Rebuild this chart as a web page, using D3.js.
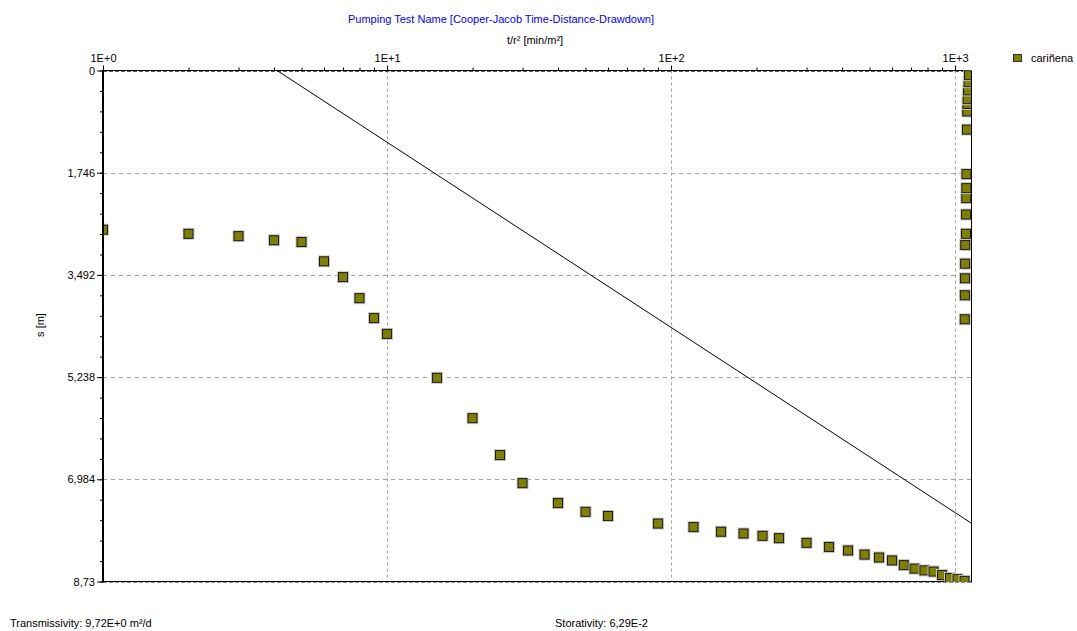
<!DOCTYPE html>
<html>
<head>
<meta charset="utf-8">
<script src="https://cdn.jsdelivr.net/npm/d3@7"></script>
<style>
  body { margin: 0; background: #fff; }
  text { font-family: Arial, "Liberation Sans", sans-serif; font-size: 11px; }
</style>
</head>
<body>
<div id="main_chart"></div>
<script>
// observed time / r^2 [min/m2]
var times = [1, 2, 3, 4, 5, 6, 7, 8, 9, 10, 15, 20, 25, 30, 40, 50, 60, 90,
    120, 150, 180, 210, 240, 300, 360, 420, 480, 540, 600, 660, 720, 780, 840,
    900, 960, 1020, 1080,
    1082, 1083, 1084, 1085, 1086, 1093, 1094, 1095, 1096, 1097, 1102, 1104,
    1106, 1108, 1111, 1116, 1120];

// observed drawdown s [m]
var drawdowns = [2.72, 2.79, 2.83, 2.90, 2.93, 3.26, 3.53, 3.89, 4.23, 4.50,
    5.25, 5.94, 6.57, 7.05, 7.39, 7.54, 7.61, 7.74,
    7.80, 7.88, 7.91, 7.95, 7.99, 8.07, 8.14, 8.20, 8.27, 8.32, 8.37, 8.45,
    8.51, 8.54, 8.56, 8.62, 8.67, 8.69, 8.72,
    4.25, 3.84, 3.55, 3.30, 2.98, 2.79, 2.46, 2.18, 2.01, 1.77, 1.01, 0.70,
    0.57, 0.49, 0.34, 0.20, 0.08];

// fitted Cooper-Jacob straight line (two end points)
var fitTimes = [4.1, 1138];
var fitDrawdowns = [0, 7.73];

var xTickValues = [1, 10, 100, 1000];
var xTickLabels = ["1E+0", "1E+1", "1E+2", "1E+3"];
var yTickValues = [0, 1.746, 3.492, 5.238, 6.984, 8.73];
var yTickLabels = ["0", "1,746", "3,492", "5,238", "6,984", "8,73"];

var seriesName = "cariñena";
var title = "Pumping Test Name [Cooper-Jacob Time-Distance-Drawdown]";
var transmissivity = "Transmissivity: 9,72E+0 m²/d";
var storativity = "Storativity: 6,29E-2";

var width = 1077, height = 631;
var plotLeft = 103, plotRight = 971, plotTop = 70.5, plotBottom = 581.5;
var olive = "#808000";

var x = d3.scaleLog()
    .domain([1, 1138])
    .range([plotLeft, plotRight]);

var y = d3.scaleLinear()
    .domain([0, 8.73])
    .range([plotTop, plotBottom]);

var svg = d3.select("#main_chart").append("svg")
    .attr("width", width)
    .attr("height", height);

svg.append("rect")
    .attr("width", width)
    .attr("height", height)
    .attr("fill", "#fff");

svg.append("clipPath")
    .attr("id", "plot-clip")
    .append("rect")
    .attr("x", plotLeft)
    .attr("y", plotTop)
    .attr("width", plotRight - plotLeft)
    .attr("height", plotBottom - plotTop);

// grid lines
svg.append("g")
    .selectAll("line")
    .data(xTickValues.slice(1))
    .enter().append("line")
    .attr("x1", function(d) { return Math.round(x(d)) + 0.5; })
    .attr("x2", function(d) { return Math.round(x(d)) + 0.5; })
    .attr("y1", plotTop)
    .attr("y2", plotBottom)
    .attr("stroke", "#a0a0a0")
    .attr("stroke-dasharray", "3,3");

svg.append("g")
    .selectAll("line")
    .data(yTickValues.slice(1, -1))
    .enter().append("line")
    .attr("x1", plotLeft)
    .attr("x2", plotRight)
    .attr("y1", function(d) { return Math.round(y(d)) + 0.5; })
    .attr("y2", function(d) { return Math.round(y(d)) + 0.5; })
    .attr("stroke", "#a0a0a0")
    .attr("stroke-dasharray", "4,4");

// top axis (log)
var minor = [];
for (var e = 0; e < 4; e++) {
    for (var k = 2; k < 10; k++) {
        var v = k * Math.pow(10, e);
        if (v <= 1138) minor.push(v);
    }
}

var topAxis = svg.append("g")
    .attr("transform", "translate(0," + plotTop + ")")
    .call(d3.axisTop(x)
        .tickValues(xTickValues)
        .tickFormat(function(d, i) { return xTickLabels[i]; })
        .tickSize(5)
        .tickPadding(4));
topAxis.select(".domain").remove();
topAxis.selectAll("text").attr("font-size", 11).attr("fill", "#000");

svg.append("g")
    .attr("transform", "translate(0," + plotTop + ")")
    .call(d3.axisTop(x).tickValues(minor).tickFormat("").tickSize(3))
    .select(".domain").remove();

// left axis
var leftAxis = svg.append("g")
    .attr("transform", "translate(" + plotLeft + ",0)")
    .call(d3.axisLeft(y)
        .tickValues(yTickValues)
        .tickFormat(function(d, i) { return yTickLabels[i]; })
        .tickSize(6)
        .tickPadding(2));
leftAxis.select(".domain").remove();
leftAxis.selectAll("text").attr("font-size", 11).attr("fill", "#000");

svg.append("g")
    .attr("transform", "translate(" + plotLeft + ",0)")
    .call(d3.axisLeft(y).tickValues(d3.range(0, 26).map(function(i) { return i * 0.3492; })).tickFormat("").tickSize(3))
    .select(".domain").remove();

// frame
svg.append("line").attr("x1", plotLeft).attr("x2", plotRight).attr("y1", plotTop).attr("y2", plotTop)
    .attr("stroke", "#000");
svg.append("line").attr("x1", plotLeft).attr("x2", plotRight).attr("y1", plotTop + 1).attr("y2", plotTop + 1)
    .attr("stroke", "#555").attr("stroke-dasharray", "4,2");
svg.append("line").attr("x1", plotLeft).attr("x2", plotRight).attr("y1", plotBottom).attr("y2", plotBottom)
    .attr("stroke", "#000");
svg.append("line").attr("x1", plotLeft).attr("x2", plotRight).attr("y1", plotBottom + 1).attr("y2", plotBottom + 1)
    .attr("stroke", "#888").attr("stroke-dasharray", "4,2");

var plot = svg.append("g").attr("clip-path", "url(#plot-clip)");

// fitted line
var line = d3.line()
    .x(function(d, i) { return x(fitTimes[i]); })
    .y(function(d) { return y(d); });

plot.append("path")
    .datum(fitDrawdowns)
    .attr("d", line)
    .attr("fill", "none")
    .attr("stroke", "#000")
    .attr("stroke-width", 1);

// observations
var points = plot.selectAll(".pt")
    .data(drawdowns)
    .enter().append("g")
    .attr("class", "pt")
    .attr("transform", function(d, i) { return "translate(" + x(times[i]) + "," + y(d) + ")"; });

points.append("rect")
    .attr("x", -6).attr("y", -6)
    .attr("width", 12).attr("height", 12)
    .attr("fill", "#c8c8c8");

points.append("rect")
    .attr("x", -4.5).attr("y", -4.5)
    .attr("width", 9).attr("height", 9)
    .attr("fill", olive)
    .attr("stroke", "#1a1a1a")
    .attr("stroke-width", 1);

svg.append("line").attr("x1", plotRight + 0.5).attr("x2", plotRight + 0.5).attr("y1", plotTop).attr("y2", plotBottom + 1)
    .attr("stroke", "#000");
svg.append("line").attr("x1", plotLeft).attr("x2", plotLeft).attr("y1", plotTop - 0.5).attr("y2", plotBottom + 1)
    .attr("stroke", "#000").attr("stroke-width", 2);

// legend
svg.append("rect")
    .attr("x", 1013.5).attr("y", 54.5)
    .attr("width", 8).attr("height", 7)
    .attr("fill", olive)
    .attr("stroke", "#333");
svg.append("text")
    .attr("x", 1031).attr("y", 62)
    .text(seriesName);

// titles
svg.append("text")
    .attr("x", 501).attr("y", 23)
    .attr("text-anchor", "middle")
    .attr("fill", "#0000ff")
    .text(title);

svg.append("text")
    .attr("x", 535).attr("y", 44)
    .attr("text-anchor", "middle")
    .text("t/r² [min/m²]");

svg.append("text")
    .attr("transform", "translate(44,325) rotate(-90)")
    .attr("text-anchor", "middle")
    .text("s [m]");

svg.append("text")
    .attr("x", 10).attr("y", 627)
    .text(transmissivity);

svg.append("text")
    .attr("x", 555).attr("y", 627)
    .text(storativity);
</script>
</body>
</html>
